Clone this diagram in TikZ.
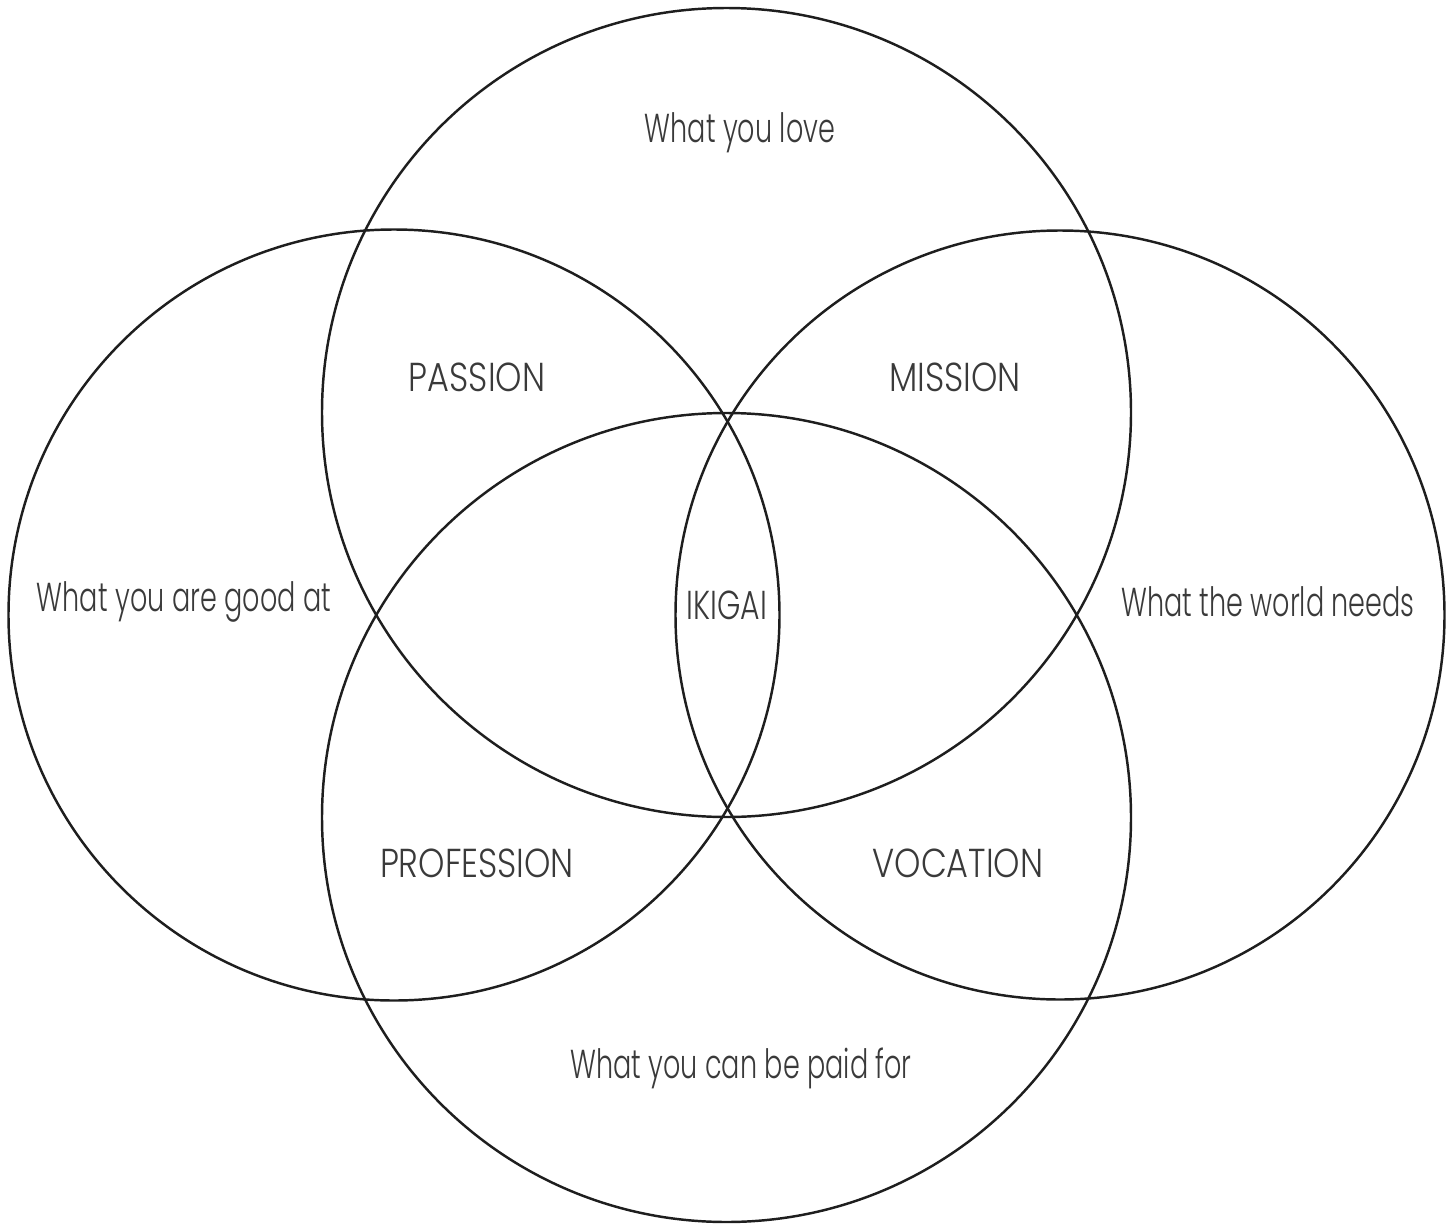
\documentclass[tikz,border=0pt]{standalone}
\usepackage{fontspec}
\setmainfont{Poppins}[UprightFont=* Light,FakeStretch=0.67]
\newfontfamily\capsfont{Poppins}[UprightFont=* Light,FakeStretch=0.83]
\newfontfamily\coreFont{Poppins}[UprightFont=* Light,FakeStretch=0.74]
\usepackage{tikz}
\definecolor{ink}{HTML}{1E1E1E}
\definecolor{txt}{HTML}{3A3A3A}
\tikzset{
  every picture/.style={line join=round, line cap=round},
  ring/.style={draw=ink, line width=1.4pt},
  lbl/.style={text=txt, font=\fontsize{23}{26}\selectfont, inner sep=0pt},
  caps/.style={lbl, font=\capsfont\fontsize{23}{26}\selectfont},
}
\begin{document}
\begin{tikzpicture}[x=0.02cm,y=-0.02cm]
\useasboundingbox (0,0) rectangle (1455,1224);
% the four circles
\draw[ring](726.5,412.5)circle[radius=404.5];
\draw[ring](726.5,817.5)circle[radius=404.5];
\draw[ring](394,615)circle[radius=385.5];
\draw[ring](1060,615)circle[radius=384.5];
% labels
\node[lbl](love)at(740,133){What you love};
\node[lbl](good)at(184,602){What you are good at};
\node[lbl](world)at(1268,602){What the world needs};
\node[lbl](paid)at(741,1068){What you can be paid for};
\node[caps](passion)at(477,377){PASSION};
\node[caps](mission)at(955,377){MISSION};
\node[caps](profession)at(477,863){PROFESSION};
\node[caps](vocation)at(958,863){VOCATION};
\node[lbl,font=\coreFont\fontsize{23}{26}\selectfont](ikigai)at(727,605){IKIGAI};
\end{tikzpicture}
\end{document}
